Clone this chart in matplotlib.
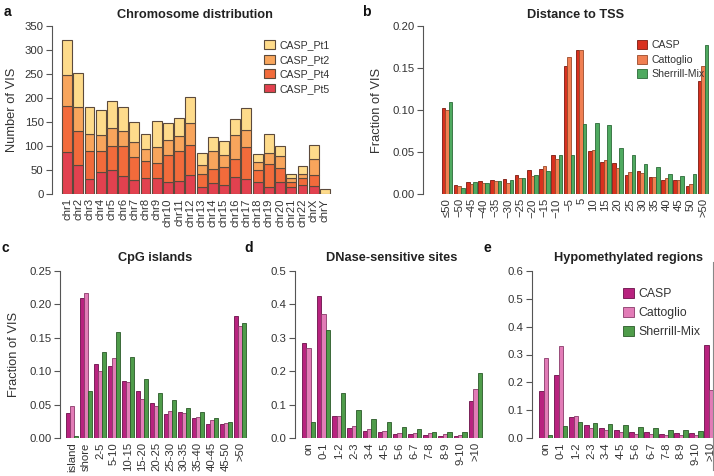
import numpy as np
import matplotlib
matplotlib.use("Agg")
import matplotlib.pyplot as plt
from matplotlib.lines import Line2D

plt.rcParams['font.family'] = ['Liberation Sans', 'DejaVu Sans']

# ---- panel a: chromosome distribution (stacked counts) ----
chroms = ['chr' + str(i) for i in range(1, 23)] + ['chrX', 'chrY']
pt5 = [88, 61, 32, 46, 51, 38, 30, 33, 33, 26, 27, 40, 15, 23, 19, 36, 32, 24, 15, 24, 14, 18, 16, 0]
pt4 = [95, 70, 57, 44, 50, 61, 48, 36, 32, 56, 62, 62, 27, 30, 37, 36, 65, 27, 47, 31, 10, 15, 23, 0]
pt2 = [65, 51, 35, 33, 36, 33, 30, 25, 32, 30, 32, 45, 19, 37, 26, 50, 37, 15, 24, 25, 9, 9, 34, 0]
pt1 = [73, 70, 57, 51, 57, 50, 41, 32, 55, 35, 37, 56, 24, 29, 28, 34, 46, 17, 40, 19, 9, 16, 30, 11]

# ---- panel b: distance to TSS ----
tss_labels = ['\u226450', '\u221250', '\u221245', '\u221240', '\u221235', '\u221230', '\u221225',
              '\u221220', '\u221215', '\u221210', '\u22125', '5', '10', '15', '20', '25', '30',
              '35', '40', '45', '50', '>50']
tss_casp = [0.102, 0.011, 0.014, 0.015, 0.017, 0.018, 0.023, 0.029, 0.030, 0.046, 0.152,
            0.171, 0.051, 0.038, 0.037, 0.023, 0.027, 0.020, 0.017, 0.017, 0.010, 0.135]
tss_catt = [0.100, 0.009, 0.012, 0.013, 0.015, 0.013, 0.019, 0.022, 0.033, 0.042, 0.163,
            0.172, 0.052, 0.040, 0.031, 0.026, 0.025, 0.020, 0.019, 0.017, 0.012, 0.152]
tss_sm = [0.109, 0.007, 0.014, 0.013, 0.016, 0.017, 0.019, 0.023, 0.027, 0.046, 0.046,
          0.083, 0.085, 0.082, 0.055, 0.047, 0.036, 0.032, 0.024, 0.022, 0.024, 0.177]

# ---- panel c: CpG islands ----
cpg_labels = ['island', 'shore', '2-5', '5-10', '10-15', '15-20', '20-25', '25-30',
              '30-35', '35-40', '40-45', '45-50', '>50']
cpg_casp = [0.037, 0.209, 0.111, 0.108, 0.086, 0.071, 0.052, 0.036, 0.039, 0.030, 0.021, 0.021, 0.183]
cpg_catt = [0.048, 0.217, 0.100, 0.120, 0.084, 0.059, 0.048, 0.041, 0.038, 0.032, 0.027, 0.022, 0.168]
cpg_sm = [0.003, 0.070, 0.128, 0.159, 0.122, 0.088, 0.068, 0.057, 0.045, 0.039, 0.030, 0.024, 0.172]

# ---- panel d: DNase-sensitive sites ----
dn_labels = ['on', '0-1', '1-2', '2-3', '3-4', '4-5', '5-6', '6-7', '7-8', '8-9', '9-10', '>10']
dn_casp = [0.285, 0.426, 0.066, 0.030, 0.022, 0.019, 0.013, 0.011, 0.010, 0.007, 0.006, 0.112]
dn_catt = [0.270, 0.370, 0.066, 0.035, 0.028, 0.020, 0.015, 0.015, 0.015, 0.012, 0.010, 0.146]
dn_sm = [0.047, 0.323, 0.135, 0.084, 0.057, 0.048, 0.033, 0.028, 0.019, 0.018, 0.017, 0.194]

# ---- panel e: hypomethylated regions ----
hm_labels = ['on', '0-1', '1-2', '2-3', '3-4', '4-5', '5-6', '6-7', '7-8', '8-9', '9-10', '>10']
hm_casp = [0.170, 0.225, 0.075, 0.047, 0.036, 0.029, 0.023, 0.023, 0.016, 0.018, 0.017, 0.335]
hm_catt = [0.287, 0.331, 0.078, 0.036, 0.030, 0.020, 0.013, 0.013, 0.011, 0.011, 0.010, 0.172]
hm_sm = [0.012, 0.044, 0.057, 0.054, 0.051, 0.046, 0.038, 0.036, 0.027, 0.030, 0.026, 0.190]

W, H = 714, 476
fig = plt.figure(figsize=(W / 100, H / 100), dpi=100)

TXT = '#333333'
AX = '#555555'
TICK = 8.2


def make_ax(x0, x1, ytop, ybot):
    # pixel box -> figure fraction
    return fig.add_axes([x0 / W, 1 - ybot / H, (x1 - x0) / W, (ybot - ytop) / H])


def style(ax, yticks, fmt):
    for s in ['top', 'right', 'bottom']:
        ax.spines[s].set_visible(False)
    ax.spines['left'].set_color(AX)
    ax.spines['left'].set_linewidth(0.8)
    ax.spines['left'].set_bounds(yticks[0], yticks[-1])
    ax.set_yticks(yticks)
    ax.set_yticklabels([fmt.format(t) for t in yticks])
    ax.set_ylim(yticks[0], yticks[-1])
    ax.tick_params(axis='y', direction='out', length=4, width=0.8, color=AX,
                   labelsize=TICK, labelcolor=TXT, pad=2)
    ax.tick_params(axis='x', length=0, labelsize=TICK, labelcolor=TXT, pad=3)


def grouped(ax, labels, series, colors, edges, width=0.29):
    x = np.arange(len(labels))
    for i, (vals, c, e) in enumerate(zip(series, colors, edges)):
        ax.bar(x + (i - 1) * width, vals, width, color=c, edgecolor=e, linewidth=0.6)
    ax.set_xticks(x)
    ax.set_xticklabels(labels, rotation=90)


def title(x, y, s):
    fig.text(x / W, 1 - y / H, s, ha='center', va='center', fontsize=9.2,
             fontweight='bold', color='#222222')


def letter(x, y, s):
    fig.text(x / W, 1 - y / H, s, ha='left', va='center', fontsize=10,
             fontweight='bold', color='#111111')


# ---- a ----
axa = make_ax(52, 335, 26, 194)
cols_a = ['#E2414F', '#F26B3B', '#F8A55C', '#FEDB8B']
xa = np.arange(len(chroms))
bottom = np.zeros(len(chroms))
handles = []
for vals, c, name in zip([pt5, pt4, pt2, pt1], cols_a, ['CASP_Pt5', 'CASP_Pt4', 'CASP_Pt2', 'CASP_Pt1']):
    b = axa.bar(xa, vals, 0.88, bottom=bottom, color=c, edgecolor='#5c4a3c', linewidth=0.8, label=name)
    handles.append(b)
    bottom += np.array(vals)
axa.set_xticks(xa)
axa.set_xticklabels(chroms, rotation=90)
axa.set_xlim(-1.34, 23.9)
style(axa, [0, 50, 100, 150, 200, 250, 300, 350], '{:d}')
axa.set_ylabel('Number of VIS', fontsize=9.3, color=TXT, labelpad=5)
leg = axa.legend(handles[::-1], ['CASP_Pt1', 'CASP_Pt2', 'CASP_Pt4', 'CASP_Pt5'],
                 loc='upper left', bbox_to_anchor=(0.735, 0.94), frameon=False,
                 fontsize=7.6, handlelength=1.0, handleheight=0.9, handletextpad=0.4,
                 labelspacing=0.42, borderaxespad=0)
for t in leg.get_texts():
    t.set_color(TXT)
title(195, 15, 'Chromosome distribution')
letter(4, 12, 'a')

# ---- b ----
axb = make_ax(423, 714, 26, 194)
cols_b = ['#D9301E', '#F07F52', '#4FAA60']
edges_b = ['#7a1a10', '#9a4a2a', '#2c6a38']
grouped(axb, tss_labels, [tss_casp, tss_catt, tss_sm], cols_b, edges_b)
axb.set_xlim(-1.97, 21.9)
style(axb, [0, 0.05, 0.10, 0.15, 0.20], '{:.2f}')
axb.set_ylabel('Fraction of VIS', fontsize=9.3, color=TXT, labelpad=7)
hb = [plt.Rectangle((0, 0), 1, 1, fc=c, ec=e, lw=0.6) for c, e in zip(cols_b, edges_b)]
lb = axb.legend(hb, ['CASP', 'Cattoglio', 'Sherrill-Mix'], loc='upper left',
                bbox_to_anchor=(0.72, 0.94), frameon=False, fontsize=7.6,
                handlelength=1.0, handleheight=0.9, handletextpad=0.4,
                labelspacing=0.42, borderaxespad=0)
for t in lb.get_texts():
    t.set_color(TXT)
title(576, 15, 'Distance to TSS')
letter(362, 12, 'b')

# ---- c, d, e share colours ----
cols_m = ['#B8237F', '#E27CB7', '#4F9C4A']
edges_m = ['#6a1048', '#8a3a6a', '#2a5a28']

axc = make_ax(60, 247, 271, 438)
grouped(axc, cpg_labels, [cpg_casp, cpg_catt, cpg_sm], cols_m, edges_m)
axc.set_xlim(-0.86, 12.5)
style(axc, [0, 0.05, 0.10, 0.15, 0.20, 0.25], '{:.2f}')
axc.set_ylabel('Fraction of VIS', fontsize=9.3, color=TXT, labelpad=7)
title(155, 258, 'CpG islands')
letter(2, 248, 'c')

axd = make_ax(295, 483, 271, 438)
grouped(axd, dn_labels, [dn_casp, dn_catt, dn_sm], cols_m, edges_m)
axd.set_xlim(-0.89, 11.5)
style(axd, [0, 0.1, 0.2, 0.3, 0.4, 0.5], '{:.1f}')
title(392, 258, 'DNase-sensitive sites')
letter(244, 248, 'd')

# panel e runs past the right edge of the figure (cropped like the original)
axe = make_ax(532, 718.5, 271, 438)
grouped(axe, hm_labels, [hm_casp, hm_catt, hm_sm], cols_m, edges_m)
axe.set_xlim(-0.93, 11.5)
style(axe, [0, 0.1, 0.2, 0.3, 0.4, 0.5, 0.6], '{:.1f}')
he = [plt.Rectangle((0, 0), 1, 1, fc=c, ec=e, lw=0.6) for c, e in zip(cols_m, edges_m)]
le = axe.legend(he, ['CASP', 'Cattoglio', 'Sherrill-Mix'], loc='upper left',
                bbox_to_anchor=(0.46, 0.93), frameon=False, fontsize=8.8,
                handlelength=0.9, handleheight=0.9, handletextpad=0.4,
                labelspacing=0.55, borderaxespad=0)
for t in le.get_texts():
    t.set_color(TXT)
title(628, 258, 'Hypomethylated regions')
letter(484, 248, 'e')

# thin edge line at the right border
fig.add_artist(Line2D([713 / W, 713 / W], [1 - 262 / H, 1 - 470 / H], color='#888888', lw=0.8))

fig.savefig('out.png', dpi=100)
